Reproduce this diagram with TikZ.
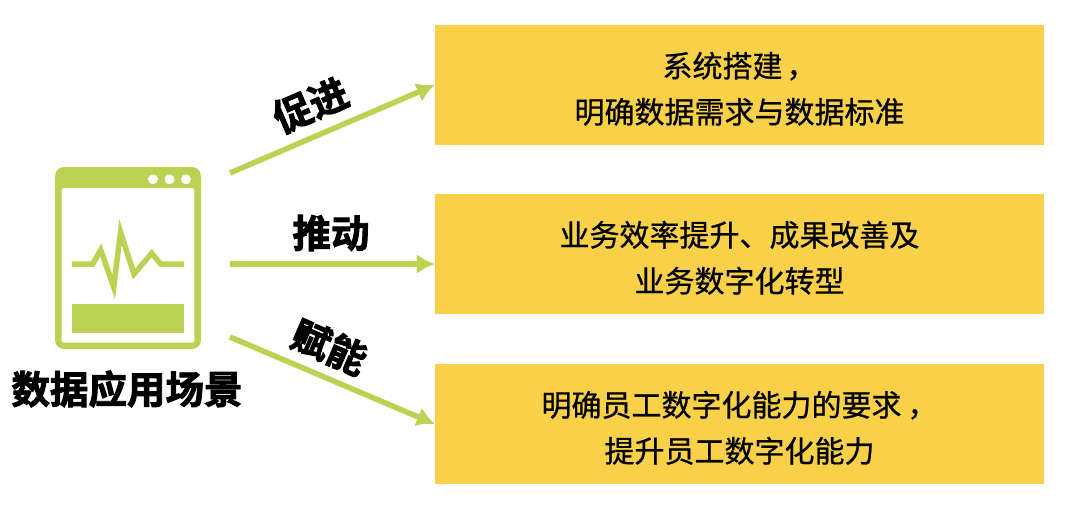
\documentclass[tikz,border=0pt]{standalone}
\usepackage{fontspec}
\setmainfont[FakeBold=0.7]{Noto Sans CJK SC}
\newfontfamily\boldcjk[FakeBold=2.4]{Noto Sans CJK SC Bold}
\usetikzlibrary{arrows.meta,positioning}
\definecolor{leaf}{HTML}{BBD253}
\definecolor{sand}{HTML}{F8D148}
\def\lift{\rule{0pt}{33pt}}
\tikzset{
  goal block/.style = {
    fill=sand, minimum width=609pt, minimum height=120pt,
    inner sep=0pt, align=center,
    font=\fontsize{30}{46}\selectfont
  },
  tag text/.style = {inner sep=0pt, font=\boldcjk\fontsize{38.5}{38.5}\selectfont},
  push line/.style = {line width=5.5pt, leaf, -{Latex[length=18pt,width=20pt]}},
}
\begin{document}
\begin{tikzpicture}[x=1pt,y=-1pt]
\useasboundingbox (0,0) rectangle (1086,512);

% right column
\node[goal block] (sys)  at (739.5, 85) {\lift 系统搭建\hspace{4pt}，\\明确数据需求与数据标准};
\node[goal block] (biz)  at (739.5,254) {\lift 业务效率提升、成果改善及\\业务数字化转型};
\node[goal block] (crew) at (739.5,424) {\lift 明确员工数字化能力的要求\hspace{6pt}，\\提升员工数字化能力};

% icon
\node[fill=leaf, rounded corners=9pt, minimum width=146pt, minimum height=182pt, inner sep=0pt] (icon) at (128,258) {};
\fill[white, rounded corners=2pt] (61.7,188) rectangle (194.3,342.5);
\foreach \x in {153,169.5,186}
  \fill[white] (\x,179.3) circle (5pt);
\fill[leaf] (72,303.5) rectangle (184,333);
\draw[leaf, line width=5.5pt, miter limit=12]
  (72,264) -- (92.7,264) -- (100.7,250) -- (113.7,287) -- (120.5,232)
  -- (134,274) -- (151.7,253.3) -- (160.7,264) -- (184,264);
\node[tag text] (name) at (127,389) {数据应用场景};

% arrows
\coordinate (up)  at (230,173);
\coordinate (mid) at (230,264);
\coordinate (low) at (230,337);
\coordinate (midend) at (biz.west |- mid);
\draw[push line] (up)  -- (sys.west);
\draw[push line] (mid) -- (midend);
\draw[push line] (low) -- (crew.west);

\node[tag text, rotate=23.3]  (tagup)  at (310.5,105) {促进};
\node[tag text]               (tagmid) at (331,233) {推动};
\node[tag text, rotate=-23.3] (taglow) at (329.5,347) {赋能};
\end{tikzpicture}
\end{document}
